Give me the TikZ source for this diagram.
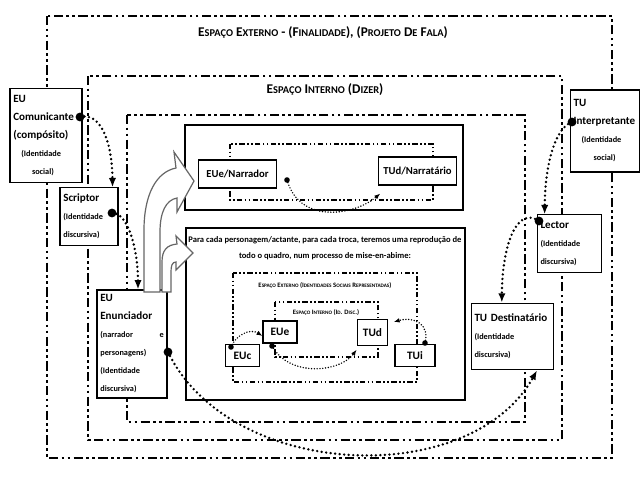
\documentclass[tikz,border=0pt]{standalone}
\usepackage{fontspec}
\setmainfont{Carlito}
\usetikzlibrary{arrows.meta}
\hyphenpenalty=10000

\newcommand{\capsw}[2]{#1\scalebox{0.78}{#2}}
\newcommand{\subt}{\fontsize{6.2}{12}\selectfont}

\tikzset{
  outerframe/.style={line width=2.1pt, dash pattern=on 7pt off 2.5pt on 2pt off 2.5pt on 2pt off 2.5pt},
  innerframe/.style={line width=0.9pt, dash pattern=on 4pt off 1.8pt on 1.2pt off 1.8pt on 1.2pt off 1.8pt},
  panel/.style={draw, line width=1.4pt, fill=white},
  card/.style={draw, line width=0.8pt, fill=white, align=left, inner sep=2.5pt, font=\fontsize{8.3}{13.5}\selectfont\bfseries},
  minicard/.style={draw, line width=0.8pt, fill=white, align=left, inner sep=2pt, font=\fontsize{8.5}{10}\selectfont\bfseries},
  dotlink/.style={line width=2pt, line cap=round, dash pattern=on 0pt off 3.4pt, -{Latex[length=7pt,width=5.5pt]}},
  minilink/.style={line width=1.2pt, line cap=round, dash pattern=on 0pt off 2.1pt, -{Latex[length=4.5pt,width=3.5pt]}},
  hollow/.style={draw=black!60, line width=0.9pt, fill=white},
}

\begin{document}
\begin{tikzpicture}[x=0.75pt,y=0.75pt,yscale=-1]
\useasboundingbox (0,0) rectangle (640,489);

% the three nested spaces
\draw[outerframe] (47,16) rectangle (612,458);
\draw[outerframe] (88,76) rectangle (562,440);
\draw[outerframe] (127,115) rectangle (525,422);

\node[font=\fontsize{10}{10}\selectfont\bfseries] (exttitle) at (323,33)
  {\capsw{E}{SPAÇO} \capsw{E}{XTERNO} - (\capsw{F}{INALIDADE}), (\capsw{P}{ROJETO} \capsw{D}{E} \capsw{F}{ALA})};
\node[font=\fontsize{10}{10}\selectfont\bfseries] (inttitle) at (325,90)
  {\capsw{E}{SPAÇO} \capsw{I}{NTERNO} (\capsw{D}{IZER})};

% upper panel
\draw[panel] (185,125) rectangle (463,210);
\draw[innerframe] (230,144) rectangle (433,200);
\node[minicard, minimum width=59pt, minimum height=21pt, font=\fontsize{8}{9}\selectfont\bfseries] (narrador) at (237.5,174) {EUe/Narrador};
\node[minicard, minimum width=59pt, minimum height=21pt, font=\fontsize{8}{9}\selectfont\bfseries] (narratario) at (417.5,171) {TUd/Narratário};

% lower panel (mise-en-abime)
\draw[panel] (186,228) rectangle (465,400);
\node[font=\fontsize{6.4}{12}\selectfont\bfseries, align=center] (mise) at (325,248)
  {Para cada personagem/actante, para cada troca, teremos uma reprodução de\\todo o quadro, num processo de mise-en-abime:};
\draw[innerframe] (233,273) rectangle (417,382);
\draw[innerframe] (275,302) rectangle (378,357);
\node[font=\fontsize{5}{6}\selectfont\bfseries] (exttag) at (325,286)
  {\capsw{E}{SPAÇO} \capsw{E}{XTERNO} (\capsw{I}{DENTIDADES} \capsw{S}{OCIAIS} \capsw{R}{EPRESENTADAS})};
\node[font=\fontsize{5}{6}\selectfont\bfseries] (inttag) at (326,313)
  {\capsw{E}{SPAÇO} \capsw{I}{NTERNO} (\capsw{I}{D}. \capsw{D}{ISC}.)};
\node[minicard, minimum width=26pt, minimum height=17pt] (euc) at (242.5,355.5) {EUc};
\node[minicard, minimum width=25.5pt, minimum height=16.5pt] (eue) at (280,332) {EUe};
\node[minicard, minimum width=23pt, minimum height=19pt] (tud) at (372.5,332.5) {TUd};
\node[minicard, minimum width=30pt, minimum height=17pt] (tui) at (415,355.5) {TUi};

% left column
\node[card, text width=49pt, minimum height=71pt] (comunicante) at (46,135.5)
  {EU\\Comunicante\\(compósito)\\{\subt\hspace*{6pt}(Identidade}\\{\subt\hspace*{14pt}social)}};
\node[card, text width=38.5pt, minimum height=43pt] (scriptor) at (89,216.5)
  {Scriptor\\{\subt(Identidade}\\{\subt discursiva)}};
\node[card, text width=47.5pt, minimum height=81pt] (enunciador) at (132,344)
  {EU\\Enunciador\\{\subt(narrador\hfill e}\\{\subt personagens)}\\{\subt(Identidade}\\{\subt discursiva)}};

% right column
\node[card, text width=47pt, minimum height=61.5pt] (interpretante) at (605,131)
  {TU\\Interpretante\\{\subt\hspace*{6pt}(Identidade}\\{\subt\hspace*{15pt}social)}};
\node[card, text width=43.5pt, minimum height=43pt] (lector) at (569.5,243.5)
  {Lector\\{\subt(Identidade}\\{\subt discursiva)}};
\node[card, text width=57pt, minimum height=50pt] (destinatario) at (512.5,336.5)
  {TU Destinatário\\{\subt(Identidade}\\{\subt discursiva)}};

% hollow arrows into the panels
\draw[hollow] (144,292) -- (144,230) .. controls (144,195) and (156,172) .. (176,168) -- (174,152) -- (194,181)
  -- (177,212) -- (177,198) .. controls (166,200) and (160,212) .. (160,232) -- (160,292) -- cycle;
\draw[hollow] (162,292) -- (162,262) .. controls (162,250) and (167,245) .. (177,244) -- (176,236) -- (193,253)
  -- (176,270) -- (176,262) .. controls (172,262) and (171,266) .. (171,272) -- (171,292) -- cycle;

% dotted links
\coordinate (comdot) at (80,117);
\coordinate (scrdot) at (112,213);
\coordinate (enudot) at (168,352);
\coordinate (intdot) at (572,122);
\coordinate (lecdot) at (539,221);
\coordinate (narrdot) at (287,180);
\coordinate (eucdot) at (231,347);
\coordinate (euedot) at (272,346);
\coordinate (tuidot) at (425,343);

\draw[dotlink] (comdot) .. controls (100,112) and (112,140) .. ([xshift=-4.5pt]scriptor.north east);
\draw[dotlink] (scrdot) .. controls (128,212) and (138,250) .. ([xshift=4.5pt]enunciador.north);
\draw[dotlink] (enudot) .. controls (230,480) and (470,490) .. ([xshift=-13pt]destinatario.south east);
\draw[dotlink] (intdot) .. controls (555,128) and (545,165) .. ([xshift=6pt]lector.north west);
\draw[dotlink] (lecdot) .. controls (515,205) and (502,250) .. ([xshift=-8pt]destinatario.north);
\draw[minilink] (narrdot) .. controls (300,225) and (355,215) .. ([xshift=2pt,yshift=6pt]narratario.south west);
\draw[minilink] (eucdot) .. controls (236,335) and (250,328) .. ([yshift=3pt]eue.west);
\draw[minilink] (euedot) .. controls (290,378) and (340,372) .. ([yshift=3pt]tud.south west);
\draw[minilink] (tuidot) .. controls (430,325) and (415,316) .. ([xshift=4pt,yshift=2pt]tud.north east);

\foreach \d in {comdot,scrdot,enudot,intdot,lecdot} \fill (\d) circle (4.4);
\foreach \d in {narrdot,eucdot,euedot,tuidot} \fill (\d) circle (2.8);

\end{tikzpicture}
\end{document}
